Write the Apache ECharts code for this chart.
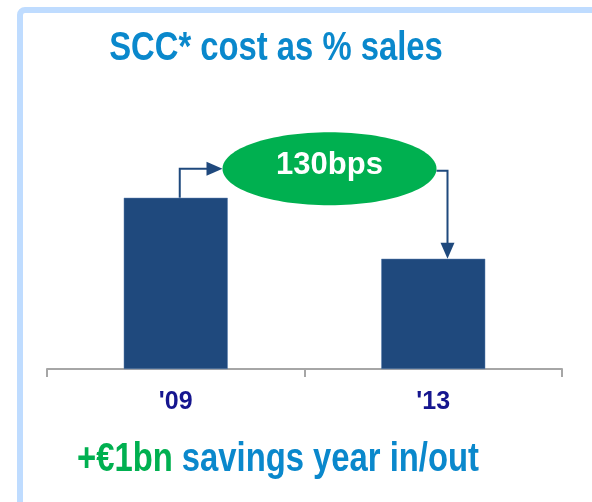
<!DOCTYPE html>
<html>
<head>
<meta charset="utf-8">
<script src="https://cdn.jsdelivr.net/npm/echarts@6/dist/echarts.min.js"></script>
<style>
  html, body { margin: 0; padding: 0; background: #fff; overflow: hidden; }
  #chart { width: 592px; height: 502px; }
</style>
</head>
<body>
<div id="chart"></div>
<script>
const years = ["'09", "'13"]
const costPct = [3.65, 2.35]
const deltaLabel = '130bps'
const titleText = 'SCC* cost as % sales'
const footGreen = '+€1bn'
const footBlue = ' savings year in/out'

const FONT = "'Liberation Sans', Arial, sans-serif"
const NARROW = 0.82 // the slide uses a narrow face, squeeze the regular one
const NAVY = '#1f497d'
const GREEN = '#00b050'
const BLUE = '#0a88cc'

const chart = echarts.init(document.getElementById('chart'))

const getChartOption = () => ({
  backgroundColor: '#fff',
  animation: false,
  grid: { left: 47, right: 30, top: 97, bottom: 133 },
  xAxis: {
    type: 'category',
    data: years,
    axisLine: { lineStyle: { color: '#a6a6a6', width: 2 } },
    axisTick: { show: true, length: 8, lineStyle: { color: '#a6a6a6', width: 2 } },
    axisLabel: {
      margin: 21,
      color: '#16168f',
      fontFamily: FONT,
      fontWeight: 'bold',
      fontSize: 25
    }
  },
  yAxis: { type: 'value', min: 0, max: 5.8, show: false, splitLine: { show: false } },
  series: [{
    type: 'bar',
    data: costPct,
    barWidth: 104,
    itemStyle: { color: NAVY, borderColor: '#5a7fae', borderWidth: 0.5 }
  }]
})

const buildOverlay = () => {
  const p1 = chart.convertToPixel({ seriesIndex: 0 }, [0, costPct[0]])
  const p2 = chart.convertToPixel({ seriesIndex: 0 }, [1, costPct[1]])
  // bubble sits above the gap between the two bars
  const cx = (p1[0] + p2[0]) / 2 + 25
  const cy = p1[1] - 29
  const rx = 107
  const ry = 36.5
  const leftX = p1[0] + 4
  const rightX = cx + rx + 11
  const lineStyle = { stroke: NAVY, lineWidth: 2, fill: null }
  return [
    {
      type: 'rect',
      shape: { x: 20, y: 10, width: 800, height: 800, r: 5 },
      style: { fill: null, stroke: '#bfdcff', lineWidth: 6 },
      silent: true
    },
    {
      type: 'text',
      x: 276,
      y: 49,
      scaleX: NARROW,
      style: {
        text: titleText,
        fill: BLUE,
        font: 'bold 40px ' + FONT,
        textAlign: 'center',
        textVerticalAlign: 'middle'
      }
    },
    {
      type: 'polyline',
      shape: { points: [[leftX, p1[1]], [leftX, cy], [cx - rx - 14, cy]] },
      style: lineStyle
    },
    {
      type: 'polygon',
      shape: { points: [[cx - rx - 16, cy - 7], [cx - rx, cy], [cx - rx - 16, cy + 7]] },
      style: { fill: NAVY }
    },
    {
      type: 'polyline',
      shape: { points: [[cx + rx, cy + 2], [rightX, cy + 2], [rightX, p2[1] - 14]] },
      style: lineStyle
    },
    {
      type: 'polygon',
      shape: { points: [[rightX - 7, p2[1] - 16], [rightX, p2[1]], [rightX + 7, p2[1] - 16]] },
      style: { fill: NAVY }
    },
    {
      type: 'ellipse',
      shape: { cx: cx, cy: cy, rx: rx, ry: ry },
      style: { fill: GREEN }
    },
    {
      type: 'text',
      x: cx,
      y: cy - 3,
      style: {
        text: deltaLabel,
        fill: '#fff',
        font: 'bold 31px ' + FONT,
        textAlign: 'center',
        textVerticalAlign: 'middle'
      }
    },
    {
      type: 'text',
      x: 278,
      y: 460,
      scaleX: NARROW,
      style: {
        text: '{g|' + footGreen + '}{b|' + footBlue + '}',
        textAlign: 'center',
        textVerticalAlign: 'middle',
        rich: {
          g: { fill: GREEN, font: 'bold 40px ' + FONT },
          b: { fill: BLUE, font: 'bold 40px ' + FONT }
        }
      }
    }
  ]
}

const renderChart = () => {
  chart.setOption(getChartOption())
  chart.setOption({ graphic: { elements: buildOverlay() } })
}

renderChart()
</script>
</body>
</html>
